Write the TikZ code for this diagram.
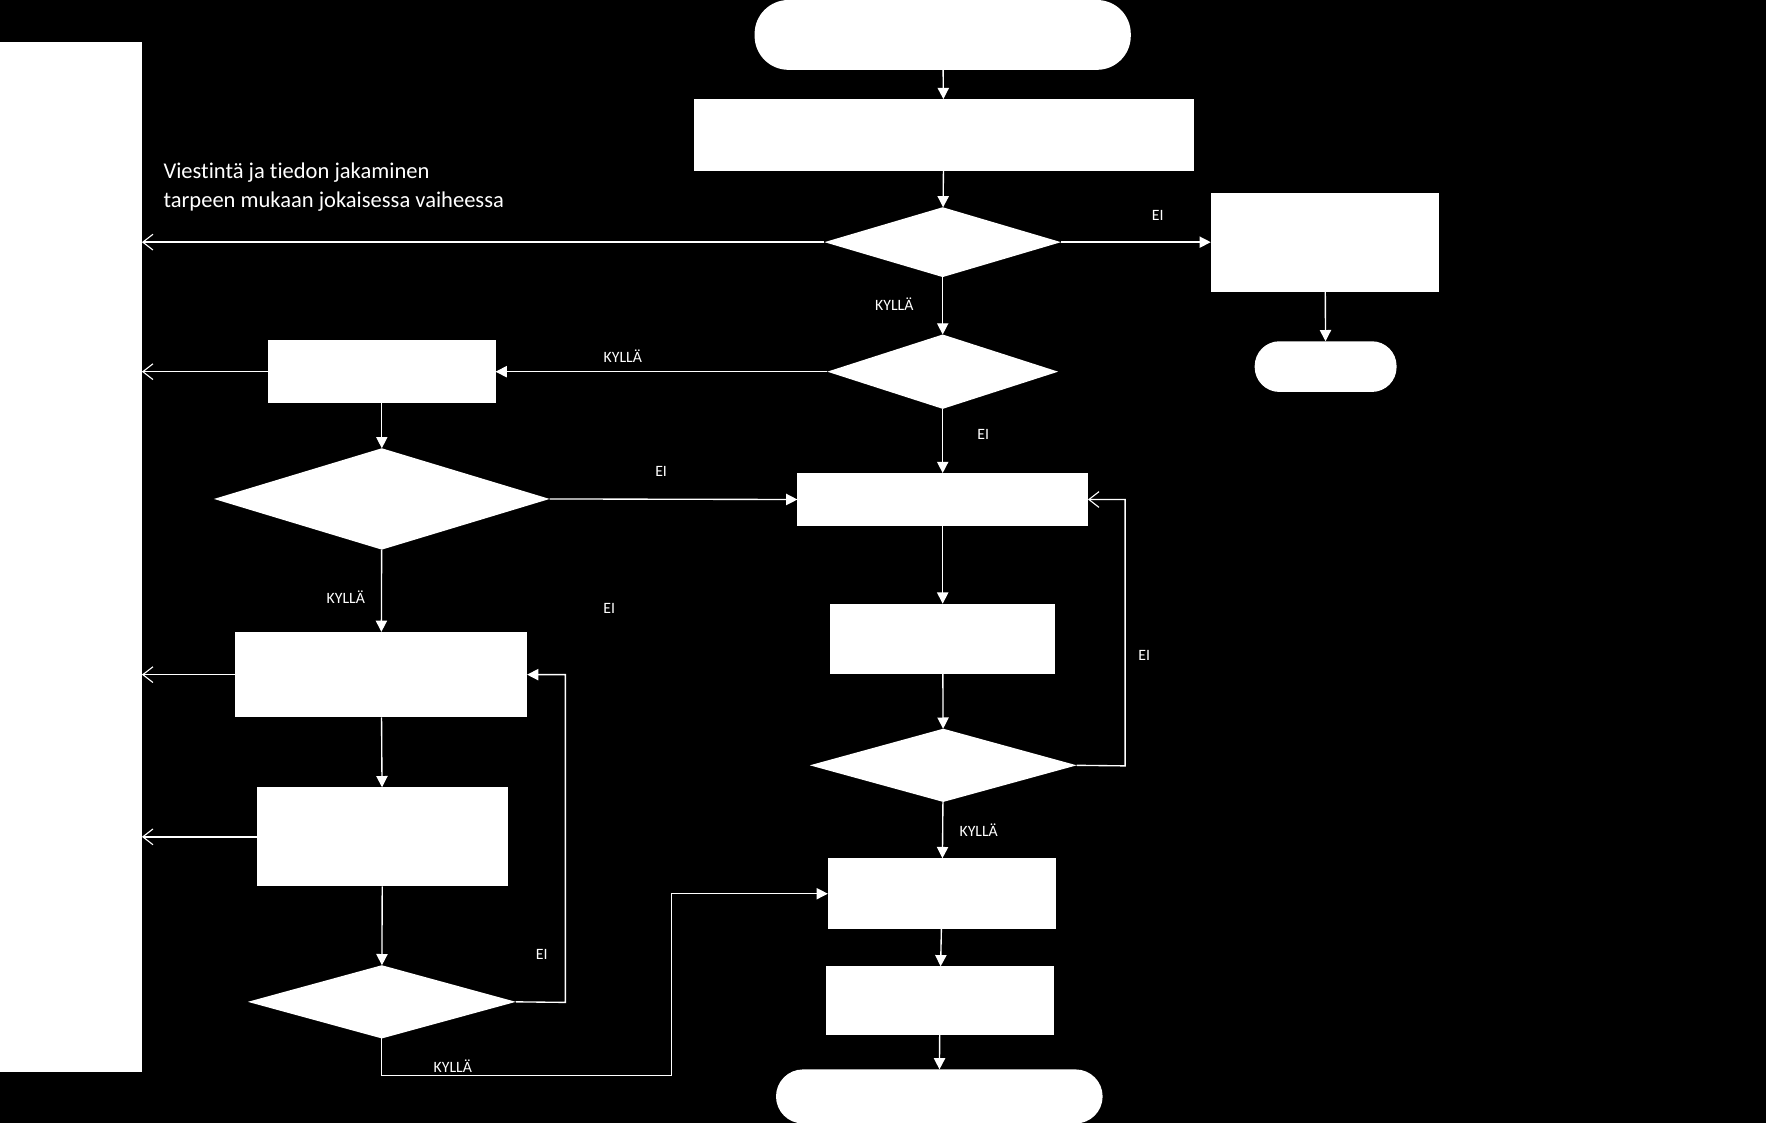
\documentclass[tikz,border=0pt]{standalone}
\usepackage{fontspec}
\setmainfont[Ligatures={NoCommon}]{Carlito}
\usetikzlibrary{shapes.geometric,arrows.meta}
\begin{document}
\begin{tikzpicture}[x=1pt,y=-1pt,
  box/.style={rectangle,fill=white,draw=none,inner sep=0pt,outer sep=0pt},
  term/.style={box,rounded corners=#1},
  dia/.style={diamond,fill=white,draw=none,inner sep=0pt,outer sep=0pt},
  conn/.style={draw=white,line width=1.2pt},
  fa/.style={conn,-{Triangle[width=10pt,length=10pt]}},
  oa/.style={conn,-{Straight Barb[length=9pt,width=14pt,line width=1pt]}},
  lab/.style={text=white,font=\fontsize{14}{16}\selectfont,inner sep=0pt}
]
\useasboundingbox (0,0) rectangle (1568,997);
\fill[black] (0,0) rectangle (1568,997);

% big side panel
\node[box,anchor=north west,minimum width=126,minimum height=915] (BIG) at (0,37) {};

% right column
\node[term=30,minimum width=334,minimum height=62] (S) at (837,31) {};
\node[box,minimum width=444,minimum height=64] (A) at (838,120) {};
\node[dia,minimum width=210,minimum height=62] (D1) at (837,215) {};
\node[box,minimum width=203,minimum height=88] (R1) at (1176.5,215) {};
\node[term=22,minimum width=126,minimum height=45] (T2) at (1177,325.5) {};
\node[dia,minimum width=205,minimum height=66] (D2) at (837,330) {};
\node[box,minimum width=258,minimum height=47] (C) at (837,443.5) {};
\node[box,minimum width=200,minimum height=62] (D) at (837,567) {};
\node[dia,minimum width=237,minimum height=65] (D4) at (837.5,679.5) {};
\node[box,minimum width=203,minimum height=63] (G) at (836.5,793.5) {};
\node[box,minimum width=203,minimum height=61] (H) at (834.5,888.5) {};
\node[term=24,minimum width=290,minimum height=48] (E2) at (834,973.5) {};

% left column
\node[box,minimum width=202,minimum height=56] (B) at (339,330) {};
\node[dia,minimum width=298,minimum height=90] (D3) at (339,443) {};
\node[box,minimum width=259,minimum height=76] (E) at (338.5,599) {};
\node[box,minimum width=223,minimum height=88] (F) at (339.5,743) {};
\node[dia,minimum width=238,minimum height=65] (D5) at (339,889.5) {};

% text
\node[text=white,anchor=north west,align=left,inner sep=0pt,
      font=\fontsize{20}{26}\selectfont] (T) at (145,144)
  {Viestintä ja tiedon jakaminen\\tarpeen mukaan jokaisessa vaiheessa};

% coordinates
\coordinate (k1) at (596,955);
\coordinate (k2) at (999,680);
\coordinate (k3) at (502,890);

% main flow
\draw[fa] (S) -- (A);
\draw[fa] (A) -- (D1);
\draw[fa] (D1.east) -- (R1.west);
\draw[fa] (R1) -- (T2);
\draw[fa] (D1) -- (D2);
\draw[fa] (D2.west) -- (B.east);
\draw[fa] (D2) -- (C);
\draw[fa] (C) -- (D);
\draw[fa] (D) -- (D4);
\draw[fa] (D4) -- (G);
\draw[fa] (G) -- (H);
\draw[fa] (H) -- (E2);
\draw[oa] (D4.east) -- (k2) |- (C.east);
\draw[fa] (B) -- (D3);
\draw[fa] (D3.east) -- (C.west);
\draw[fa] (D3) -- (E);
\draw[fa] (E) -- (F);
\draw[fa] (F) -- (D5);
\draw[fa] (D5.east) -- (k3) |- (E.east);
\draw[fa] (D5.south) |- (k1) |- (G.west);

% communication arrows to side panel
\draw[oa] (D1.west) -- (BIG.east |- D1.west);
\draw[oa] (B.west) -- (BIG.east |- B.west);
\draw[oa] (E.west) -- (BIG.east |- E.west);
\draw[oa] (F.west) -- (BIG.east |- F.west);

% labels
\node[lab] (l1) at (1028,191) {EI};
\node[lab] (l2) at (794,270) {KYLLÄ};
\node[lab] (l3) at (553,316) {KYLLÄ};
\node[lab] (l4) at (873,386) {EI};
\node[lab] (l5) at (587,419) {EI};
\node[lab] (l6) at (307,530) {KYLLÄ};
\node[lab] (l7) at (541,540) {EI};
\node[lab] (l8) at (1016,582) {EI};
\node[lab] (l9) at (869,737) {KYLLÄ};
\node[lab] (l10) at (481,847) {EI};
\node[lab] (l11) at (402,947) {KYLLÄ};
\end{tikzpicture}
\end{document}
